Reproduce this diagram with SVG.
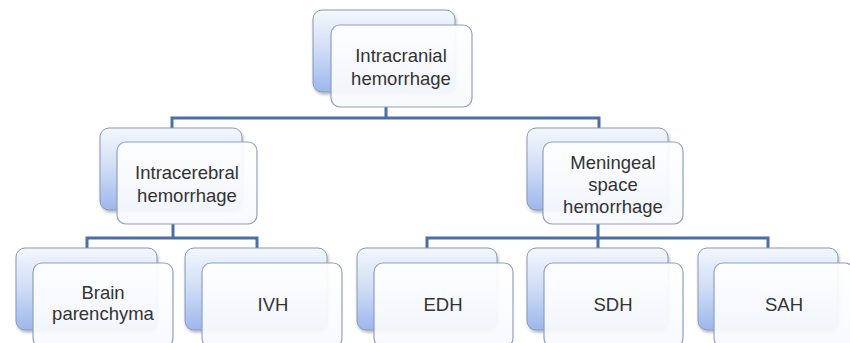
<svg xmlns="http://www.w3.org/2000/svg" width="850" height="343" viewBox="0 0 850 343">
<defs>
<linearGradient id="gb" x1="0" y1="0" x2="0" y2="1">
<stop offset="0" stop-color="#f4f7fd"/>
<stop offset="0.45" stop-color="#d3dff6"/>
<stop offset="1" stop-color="#9db7ec"/>
</linearGradient>
<linearGradient id="gf" x1="0" y1="0" x2="0" y2="1">
<stop offset="0" stop-color="#ffffff" stop-opacity="0.93"/>
<stop offset="1" stop-color="#f7f9fd" stop-opacity="0.93"/>
</linearGradient>
<filter id="sh" x="-10%" y="-10%" width="130%" height="130%">
<feGaussianBlur in="SourceAlpha" stdDeviation="1.5"/>
<feOffset dx="1" dy="1.5" result="o"/>
<feComponentTransfer><feFuncA type="linear" slope="0.3"/></feComponentTransfer>
<feMerge><feMergeNode/><feMergeNode in="SourceGraphic"/></feMerge>
</filter>
</defs>
<style>
.back{fill:url(#gb);stroke:#8a98b4;stroke-width:1;filter:url(#sh)}
.front{fill:url(#gf);stroke:#8ea0c2;stroke-width:1.2}
text{font-family:"Liberation Sans",Arial,sans-serif;font-size:18.5px;fill:#333333;text-anchor:middle}
.c{fill:none;stroke:#4a6ea6;stroke-width:3}
</style>
<rect width="850" height="343" fill="#ffffff"/>
<g id="connectors">
<path class="c" d="M386,107 V118 M172,128 V118 H599 V128"/>
<path class="c" d="M173,224 V238 M87,248 V238 H257 V248"/>
<path class="c" d="M598,224 V238 M427,248 V238 H768 V248 M598,238 V248"/>
</g>
<g id="n-ich">
<rect class="back" x="313" y="10" width="142" height="82" rx="9"/>
<rect class="front" x="331" y="25" width="141" height="82" rx="9"/>
<text x="401" y="62">Intracranial</text>
<text x="401" y="85">hemorrhage</text>
</g>
<g id="n-icerh">
<rect class="back" x="100" y="128" width="142" height="82" rx="9"/>
<rect class="front" x="117" y="142" width="140" height="82" rx="9"/>
<text x="187" y="179">Intracerebral</text>
<text x="187" y="202">hemorrhage</text>
</g>
<g id="n-msh">
<rect class="back" x="527" y="128" width="141" height="82" rx="9"/>
<rect class="front" x="543" y="142" width="140" height="82" rx="9"/>
<text x="613" y="169">Meningeal</text>
<text x="613" y="191">space</text>
<text x="613" y="213">hemorrhage</text>
</g>
<g id="n-brain">
<rect class="back" x="16" y="248" width="141" height="82" rx="9"/>
<rect class="front" x="33" y="263" width="140" height="84" rx="9"/>
<text x="103" y="299">Brain</text>
<text x="103" y="320">parenchyma</text>
</g>
<g id="n-ivh">
<rect class="back" x="185" y="248" width="142" height="82" rx="9"/>
<rect class="front" x="202" y="263" width="140" height="84" rx="9"/>
<text x="273" y="311">IVH</text>
</g>
<g id="n-edh">
<rect class="back" x="357" y="248" width="140" height="82" rx="9"/>
<rect class="front" x="374" y="263" width="139" height="84" rx="9"/>
<text x="443" y="311">EDH</text>
</g>
<g id="n-sdh">
<rect class="back" x="527" y="248" width="141" height="82" rx="9"/>
<rect class="front" x="544" y="263" width="139" height="84" rx="9"/>
<text x="613" y="311">SDH</text>
</g>
<g id="n-sah">
<rect class="back" x="698" y="248" width="140" height="82" rx="9"/>
<rect class="front" x="714" y="263" width="140" height="84" rx="9"/>
<text x="784" y="311">SAH</text>
</g>
</svg>
